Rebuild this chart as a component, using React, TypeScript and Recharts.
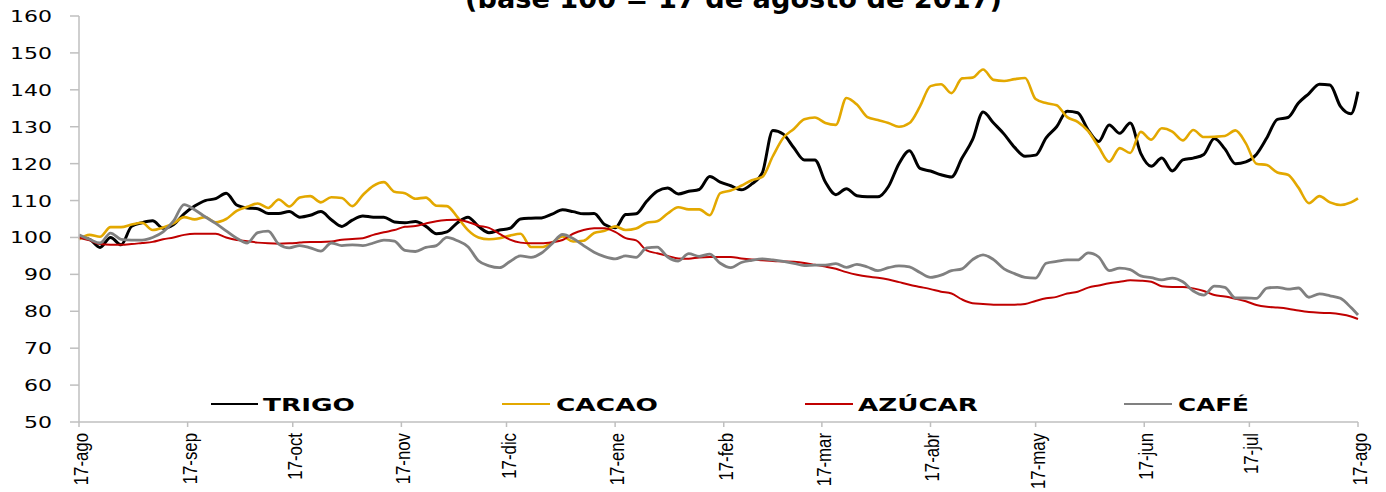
import { Line, LineChart, XAxis, YAxis } from 'recharts'

// días desde el 17-ago-2017 (base 100)
const dias = [
  0, 3, 6, 9, 12, 15, 18, 21, 24, 27, 30, 33, 36, 39, 42, 45, 48, 51, 54, 57,
  60, 63, 66, 69, 72, 75, 78, 81, 84, 87, 90, 93, 96, 99, 102, 105, 108, 111, 114, 117,
  120, 123, 126, 129, 132, 135, 138, 141, 144, 147, 150, 153, 156, 159, 162, 165, 168, 171, 174, 177,
  180, 183, 186, 189, 192, 195, 198, 201, 204, 207, 210, 213, 216, 219, 222, 225, 228, 231, 234, 237,
  240, 243, 246, 249, 252, 255, 258, 261, 264, 267, 270, 273, 276, 279, 282, 285, 288, 291, 294, 297,
  300, 303, 306, 309, 312, 315, 318, 321, 324, 327, 330, 333, 336, 339, 342, 345, 348, 351, 354, 357,
  360, 363, 365,
]

const trigo = [
  100, 99.5, 97.3, 100, 98, 103, 104, 104.5, 102.5, 103.5,
  106.4, 108.5, 110, 110.5, 112, 108.8, 108, 107.8, 106.5, 106.5,
  107, 105.5, 106, 107, 104.8, 103, 104.7, 105.8, 105.5, 105.5,
  104.2, 104, 104.3, 103, 101, 101.5, 104, 105.5, 103, 101.3,
  102, 102.5, 105, 105.2, 105.3, 106.3, 107.5, 107, 106.4, 106.5,
  103.5, 102.6, 106.2, 106.4, 109.8, 112.5, 113.4, 111.8, 112.5, 113,
  116.5, 115, 114, 112.9, 114.5, 117.5, 129, 128, 124.3, 121,
  121, 115, 111.6, 113.2, 111.3, 111, 111, 113.8, 120, 123.5,
  118.7, 118, 117, 116.4, 121.5, 126.5, 134, 131, 128, 124.4,
  122, 122.3, 127, 130, 134.2, 133.8, 129.1, 126, 130.5, 128.2,
  131, 122.8, 119.3, 121.5, 118, 121, 121.5, 122.5, 126.8, 124,
  120, 120.5, 122.5, 127, 132, 132.5, 136.4, 139, 141.5, 141.3,
  135.5, 133.5, 139.5,
]

const cacao = [
  99.5, 100.7, 100.2, 102.8, 102.8, 103.5, 104, 102, 102.7, 103.8,
  105.5, 104.9, 105.5, 104.1, 105, 107.2, 108.3, 109.2, 108, 110.3,
  108.4, 110.8, 111.2, 109.5, 110.9, 110.7, 108.5, 111.5, 114, 115,
  112.4, 112, 110.5, 110.8, 108.6, 108.5, 105.5, 102, 100, 99.5,
  99.8, 100.5, 101, 97.4, 97.4, 98.6, 100.3, 98.9, 99.1, 101.2,
  101.8, 103, 102, 102.4, 104, 104.4, 106.5, 108.2, 107.6, 107.6,
  106, 112, 112.7, 114, 115.5, 116.4, 122, 127, 129.4, 132,
  132.5, 131, 130.5, 137.8, 136, 132.6, 131.8, 131, 130, 131,
  135.5, 141, 141.5, 139.1, 143.1, 143.3, 145.5, 142.7, 142.4, 142.9,
  143.2, 137.5, 136.4, 135.8, 132.6, 131.3, 128.8, 124.5, 120.5, 124.2,
  122.9, 128.6, 126.5, 129.6, 128.7, 126.3, 129.1, 127.2, 127.3, 127.5,
  129, 125.5, 120, 119.6, 117.6, 117, 113.5, 109.3, 111.2, 109.5,
  108.8, 109.5, 110.6,
]

const azucar = [
  100, 99.2, 98.2, 98, 98, 98.2, 98.5, 98.8, 99.5, 100,
  100.7, 101, 101, 101, 100, 99.3, 99, 98.6, 98.4, 98.3,
  98.4, 98.6, 98.8, 98.8, 98.9, 99.4, 99.6, 99.8, 100.7, 101.4,
  102, 102.9, 103.1, 103.8, 104.4, 104.7, 104.8, 104.2, 103.2, 102.6,
  101, 99.4, 98.6, 98.4, 98.4, 98.7, 99.3, 101, 102, 102.5,
  102.5, 101.5, 99.8, 99.2, 96.5, 95.7, 95, 94.3, 94.2, 94.6,
  94.7, 94.7, 94.7, 94.3, 94, 93.8, 93.6, 93.5, 93.4, 93.1,
  92.6, 92.1, 91.5, 90.6, 89.9, 89.4, 89.1, 88.6, 87.9, 87.2,
  86.6, 86, 85.3, 84.8, 83.2, 82.2, 82, 81.8, 81.8, 81.8,
  82, 82.8, 83.5, 83.9, 84.8, 85.3, 86.4, 87, 87.6, 88,
  88.4, 88.3, 88, 86.8, 86.6, 86.6, 86.2, 85.5, 84.4, 84,
  83.4, 82.7, 81.7, 81.2, 81, 80.7, 80.2, 79.8, 79.6, 79.5,
  79.2, 78.6, 77.9,
]

const cafe = [
  100.7, 99.5, 98.5, 101.2, 99.5, 99.3, 99.3, 100, 101.5, 104.5,
  108.9, 107.5, 105.6, 103.8, 101.8, 99.8, 98.5, 101.3, 101.7, 98.2,
  97.2, 97.8, 97.2, 96.3, 98.5, 97.8, 98, 97.8, 98.5, 99.3,
  99, 96.5, 96.2, 97.3, 97.8, 100, 99.1, 97.5, 93.7, 92.3,
  91.8, 93.5, 95, 94.6, 95.8, 98.3, 100.8, 99.7, 97.8, 96,
  94.8, 94.2, 95, 94.6, 97.2, 97.4, 94.7, 93.6, 95.6, 94.9,
  95.5, 93, 91.8, 93.2, 93.8, 94.2, 93.9, 93.5, 93, 92.4,
  92.5, 92.5, 92.9, 91.9, 92.7, 92, 91, 91.8, 92.3, 92,
  90.5, 89.2, 89.8, 91, 91.5, 94, 95.3, 94, 91.5, 90.2,
  89.2, 89, 93, 93.5, 93.9, 93.9, 95.8, 94.7, 91, 91.7,
  91.3, 89.6, 89.1, 88.5, 89, 88, 85.5, 84.4, 86.8, 86.5,
  83.6, 83.6, 83.5, 86.3, 86.5, 86, 86.3, 83.8, 84.7, 84.2,
  83.5, 81, 79,
]

const tickDias = [0, 31, 61, 92, 122, 153, 184, 212, 243, 273, 304, 334, 365]
const etiquetas = [
  '17-ago', '17-sep', '17-oct', '17-nov', '17-dic', '17-ene', '17-feb',
  '17-mar', '17-abr', '17-may', '17-jun', '17-jul', '17-ago',
]
const yTicks = [50, 60, 70, 80, 90, 100, 110, 120, 130, 140, 150, 160]

const series = [
  { key: 'trigo', nombre: 'TRIGO', color: '#000000', width: 3 },
  { key: 'cacao', nombre: 'CACAO', color: '#E3A800', width: 2.6 },
  { key: 'azucar', nombre: 'AZÚCAR', color: '#C00000', width: 2 },
  { key: 'cafe', nombre: 'CAFÉ', color: '#808080', width: 2.8 },
]

const data = dias.map((d, i) => ({
  dia: d,
  trigo: trigo[i],
  cacao: cacao[i],
  azucar: azucar[i],
  cafe: cafe[i],
}))

// posiciones de la leyenda (dentro del área del gráfico)
const legendPos = [
  { x1: 211, x2: 258, tx: 263, tw: 92 },
  { x1: 502, x2: 550, tx: 556, tw: 102 },
  { x1: 805, x2: 853, tx: 858, tw: 120 },
  { x1: 1124, x2: 1172, tx: 1178, tw: 71 },
]

const W = 1386
const H = 492

const renderTickX = (props: any) => {
  const { x, y, payload } = props
  const label = etiquetas[tickDias.indexOf(payload.value)]
  return (
    <g transform={`translate(${x + 9}, ${y})`}>
      <text
        x={0}
        y={0}
        transform="rotate(-90) scale(0.8, 1)"
        textAnchor="end"
        fontFamily="'Liberation Sans', Arial, sans-serif"
        fontSize={21}
        fill="#000"
      >
        {label}
      </text>
    </g>
  )
}

const renderTickY = (props: any) => {
  const { x, y, payload } = props
  const s = String(payload.value)
  return (
    <text
      x={x}
      y={y + 6}
      textAnchor="end"
      fontFamily="'DejaVu Sans', sans-serif"
      fontSize={16}
      fill="#000"
      textLength={s.length * 14}
      lengthAdjust="spacingAndGlyphs"
    >
      {s}
    </text>
  )
}

export default function App() {
  return (
    <div style={{ position: 'absolute', left: 0, top: 0, width: W, height: H, background: '#fff' }}>
      <LineChart width={W} height={H} data={data} margin={{ top: 16, right: 28, bottom: 0, left: 0 }}>
        <XAxis
          dataKey="dia"
          type="number"
          domain={[0, 365]}
          ticks={tickDias}
          interval={0}
          height={70}
          tickSize={5}
          tickMargin={6}
          stroke="#BFBFBF"
          strokeWidth={1.5}
          tick={renderTickX}
        />
        <YAxis
          domain={[50, 160]}
          ticks={yTicks}
          interval={0}
          width={79}
          tickSize={9}
          tickMargin={18}
          stroke="#BFBFBF"
          strokeWidth={1.5}
          tick={renderTickY}
        />
        {series.map((s) => (
          <Line
            key={s.key}
            dataKey={s.key}
            type="monotone"
            stroke={s.color}
            strokeWidth={s.width}
            dot={false}
            isAnimationActive={false}
          />
        ))}
      </LineChart>
      <svg
        width={W}
        height={H}
        style={{ position: 'absolute', left: 0, top: 0, pointerEvents: 'none' }}
      >
        <text
          x={465}
          y={8}
          fontFamily="'DejaVu Sans', sans-serif"
          fontWeight="bold"
          fontSize={26}
          textLength={537}
          lengthAdjust="spacingAndGlyphs"
          fill="#000"
        >
          (base 100 = 17 de agosto de 2017)
        </text>
        {series.map((s, i) => {
          const p = legendPos[i]
          return (
            <g key={s.key}>
              <line x1={p.x1} x2={p.x2} y1={404} y2={404} stroke={s.color} strokeWidth={2} />
              <text
                x={p.tx}
                y={411}
                fontFamily="'DejaVu Sans', sans-serif"
                fontWeight="bold"
                fontSize={18}
                textLength={p.tw}
                lengthAdjust="spacingAndGlyphs"
                fill="#000"
              >
                {s.nombre}
              </text>
            </g>
          )
        })}
      </svg>
    </div>
  )
}
